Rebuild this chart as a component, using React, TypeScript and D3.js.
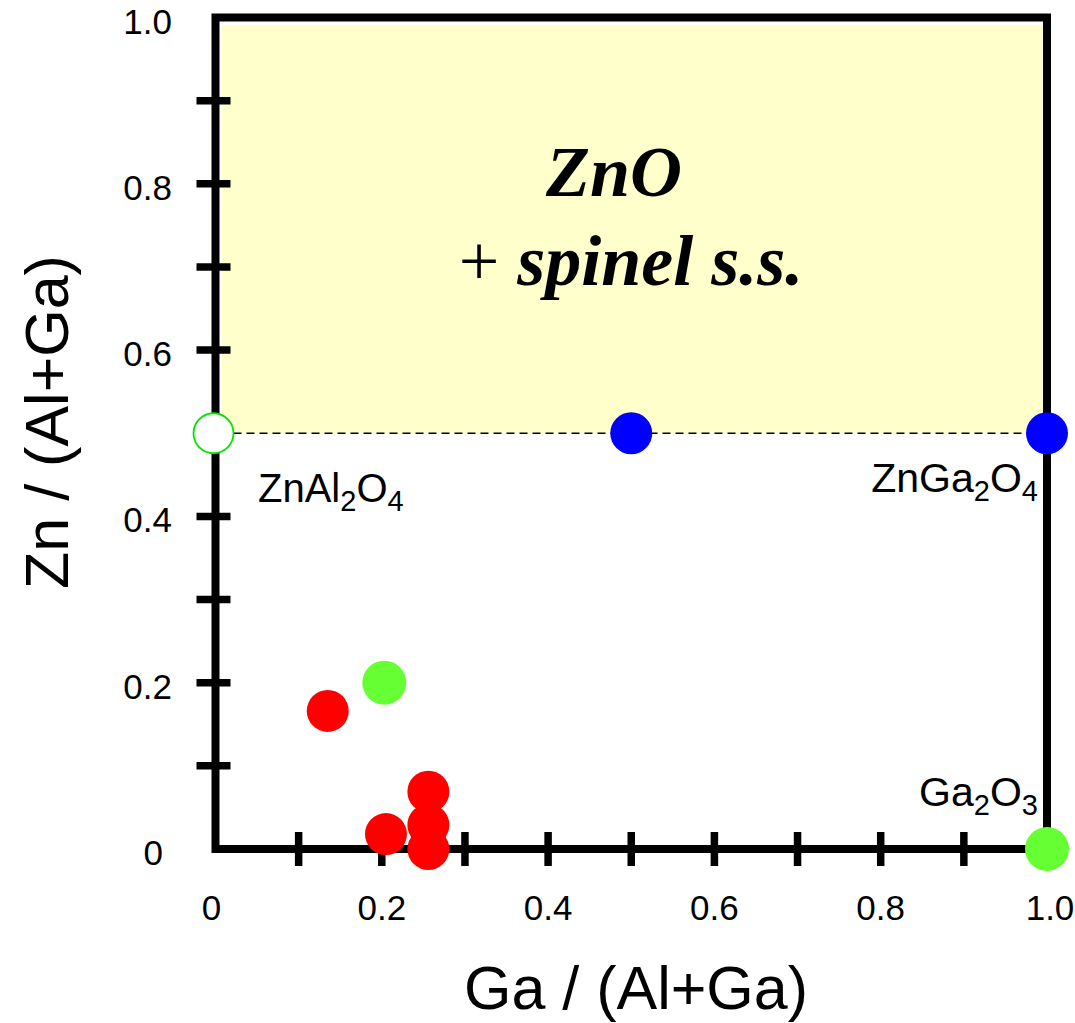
import React from "react";
import * as d3 from "d3";

const W = 1075;
const H = 1023;

// Data
const redX = [0.135, 0.205, 0.256, 0.256, 0.256];
const redY = [0.166, 0.018, 0.069, 0.029, 0.0];
const greenX = [0.203, 1.0];
const greenY = [0.2, 0.0];
const blueX = [0.5, 1.0];
const blueY = [0.5, 0.5];
const openX = [0.0];
const openY = [0.5];
const minorTicks = [0.1, 0.2, 0.3, 0.4, 0.5, 0.6, 0.7, 0.8, 0.9];
const xTickLabels = ["0", "0.2", "0.4", "0.6", "0.8", "1.0"];
const xTickValues = [0, 0.2, 0.4, 0.6, 0.8, 1.0];
const yTickLabels = ["0", "0.2", "0.4", "0.6", "0.8", "1.0"];
const yTickValues = [0, 0.2, 0.4, 0.6, 0.8, 1.0];
const boundaryY = 0.5;

export default function App() {
  const x = d3.scaleLinear().domain([0, 1]).range([215.5, 1047]);
  const y = d3.scaleLinear().domain([0, 1]).range([849, 17.5]);
  const sans = "'Liberation Sans', Arial, sans-serif";
  const serif = "'Liberation Serif', 'Times New Roman', serif";
  const r = 21;

  return (
    <svg width={W} height={H} style={{ position: "absolute", left: 0, top: 0, background: "#fff" }}>
      {/* two-phase region */}
      <rect x={x(0) + 6.5} y={y(1) + 7.5} width={x(1) - x(0) - 6.5} height={y(boundaryY) - y(1) - 7.5} fill="#FFFFCC" />
      <line x1={x(0) + 18} x2={x(1) - 8} y1={y(boundaryY)} y2={y(boundaryY)} stroke="#000" strokeWidth={1.5} strokeDasharray="8,5" />

      {/* frame */}
      <rect x={x(0)} y={y(1)} width={x(1) - x(0)} height={y(0) - y(1)} fill="none" stroke="#000" strokeWidth={8} />

      {/* ticks */}
      {minorTicks.map((t) => (
        <line key={"xt" + t} x1={x(t)} x2={x(t)} y1={y(0) - 17} y2={y(0) + 17} stroke="#000" strokeWidth={7.5} />
      ))}
      {minorTicks.map((t) => (
        <line key={"yt" + t} x1={x(0) - 19} x2={x(0) + 15} y1={y(t)} y2={y(t)} stroke="#000" strokeWidth={7.5} />
      ))}

      {/* tick labels */}
      {xTickValues.map((v, i) => (
        <text key={"xl" + i} x={x(v) - (v === 0 ? 4 : 0) + (v === 1 ? 3 : 0)} y={920} textAnchor="middle" fontFamily={sans} fontSize={35} fill="#000">
          {xTickLabels[i]}
        </text>
      ))}
      {yTickValues.map((v, i) => (
        <text key={"yl" + i} x={v === 0 ? 163 : 172} y={y(v) + 16} textAnchor="end" fontFamily={sans} fontSize={35} fill="#000">
          {yTickLabels[i]}
        </text>
      ))}

      {/* axis titles */}
      <text x={636} y={1009} textAnchor="middle" fontFamily={sans} fontSize={61} fill="#000">
        Ga / (Al+Ga)
      </text>
      <text transform={`translate(68,422) rotate(-90)`} textAnchor="middle" fontFamily={sans} fontSize={61} fill="#000">
        Zn / (Al+Ga)
      </text>

      {/* region label */}
      <text x={614} y={196} textAnchor="middle" fontFamily={serif} fontWeight="bold" fontStyle="italic" fontSize={72} fill="#000">
        ZnO
      </text>
      <text x={631} y={285} textAnchor="middle" fontFamily={serif} fontSize={72} fill="#000">
        <tspan fontWeight="normal" fontStyle="normal">+ </tspan>
        <tspan fontWeight="bold" fontStyle="italic">spinel s.s.</tspan>
      </text>

      {/* compound labels */}
      <text x={258} y={502} fontFamily={sans} fontSize={40} fill="#000">
        ZnAl<tspan fontSize={29} dy={9}>2</tspan><tspan dy={-9}>O</tspan><tspan fontSize={29} dy={9}>4</tspan>
      </text>
      <text x={1038} y={492} textAnchor="end" fontFamily={sans} fontSize={41} fill="#000">
        ZnGa<tspan fontSize={29} dy={9}>2</tspan><tspan dy={-9}>O</tspan><tspan fontSize={29} dy={9}>4</tspan>
      </text>
      <text x={1038} y={806} textAnchor="end" fontFamily={sans} fontSize={41} fill="#000">
        Ga<tspan fontSize={29} dy={9}>2</tspan><tspan dy={-9}>O</tspan><tspan fontSize={29} dy={9}>3</tspan>
      </text>

      {/* points */}
      {openX.map((v, i) => (
        <circle key={"o" + i} cx={x(v) - 2} cy={y(openY[i])} r={20} fill="#fff" stroke="#00E600" strokeWidth={1.8} />
      ))}
      {blueX.map((v, i) => (
        <circle key={"b" + i} cx={x(v)} cy={y(blueY[i])} r={r} fill="#0000FF" />
      ))}
      {greenX.map((v, i) => (
        <circle key={"g" + i} cx={x(v)} cy={y(greenY[i])} r={22} fill="#66FF33" />
      ))}
      {redX.map((v, i) => (
        <circle key={"r" + i} cx={x(v)} cy={y(redY[i])} r={21} fill="#FF0000" />
      ))}
    </svg>
  );
}
